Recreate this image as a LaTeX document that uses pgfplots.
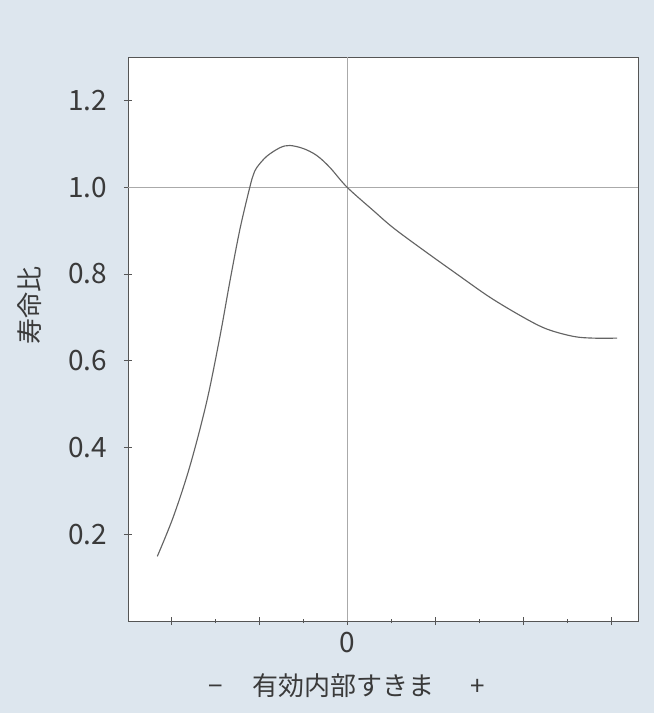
\documentclass[border=0pt]{standalone}
\usepackage{fontspec}
\setmainfont{Noto Sans CJK JP}
\usepackage{pgfplots}
\pgfplotsset{compat=1.18}
\definecolor{bgblue}{RGB}{221,230,238}
\definecolor{txt}{RGB}{58,58,58}
\definecolor{frame}{RGB}{85,85,85}
\definecolor{curve}{RGB}{100,100,100}
\definecolor{refl}{RGB}{170,170,170}
\begin{document}
\begin{tikzpicture}
\fill[bgblue] (-96pt,-69pt) rectangle (394.5pt,465.75pt);
\begin{axis}[
  at={(0,0)}, anchor=south west,
  scale only axis,
  width=382.5pt, height=423pt,
  xmin=-2.489, xmax=3.307,
  ymin=0, ymax=1.30,
  axis background/.style={fill=white},
  axis line style={frame, line width=0.6pt},
  tick pos=left,
  tick align=center,
  major tick length=6pt,
  minor tick length=3pt,
  every tick/.style={frame, line width=0.6pt},
  xtick={-2,-1,0,1,2,3},
  xticklabels={,,0,,,},
  minor x tick num=1,
  ytick={0.2,0.4,0.6,0.8,1.0,1.2},
  yticklabels={0.2,0.4,0.6,0.8,1.0,1.2},
  /pgf/number format/assume math mode=true,
  ticklabel style={font=\fontsize{21}{24}\selectfont, text=txt},
  yticklabel style={xshift=-9pt},
  xticklabel style={yshift=-2pt},
  xlabel={−\hspace{22pt}有効内部すきま\hspace{27pt}+},
  ylabel={寿命比},
  label style={font=\fontsize{19.5}{22}\selectfont, text=txt},
  xlabel style={at={(axis description cs:0.429,-0.115)}, anchor=center},
  ylabel style={at={(axis description cs:-0.192,0.56)}, anchor=center},
  clip=false,
]
\addplot[refl, line width=0.5pt, forget plot] coordinates {(0,0) (0,1.30)};
\addplot[refl, line width=0.5pt, forget plot] coordinates {(-2.489,1.0) (3.307,1.0)};
\addplot[curve, line width=0.85pt, smooth, tension=0.55] coordinates {
(-2.156,0.149)
(-1.974,0.240)
(-1.784,0.358)
(-1.594,0.506)
(-1.443,0.657)
(-1.330,0.784)
(-1.216,0.904)
(-1.102,1.002)
(-1.065,1.028)
(-1.026,1.045)
(-0.913,1.071)
(-0.761,1.091)
(-0.650,1.096)
(-0.497,1.089)
(-0.344,1.073)
(-0.193,1.045)
(0,1.000)
(0.299,0.946)
(0.527,0.906)
(0.867,0.855)
(1.246,0.800)
(1.625,0.746)
(2.004,0.700)
(2.270,0.673)
(2.572,0.656)
(2.800,0.652)
(3.070,0.652)
};
\end{axis}
\end{tikzpicture}
\end{document}
